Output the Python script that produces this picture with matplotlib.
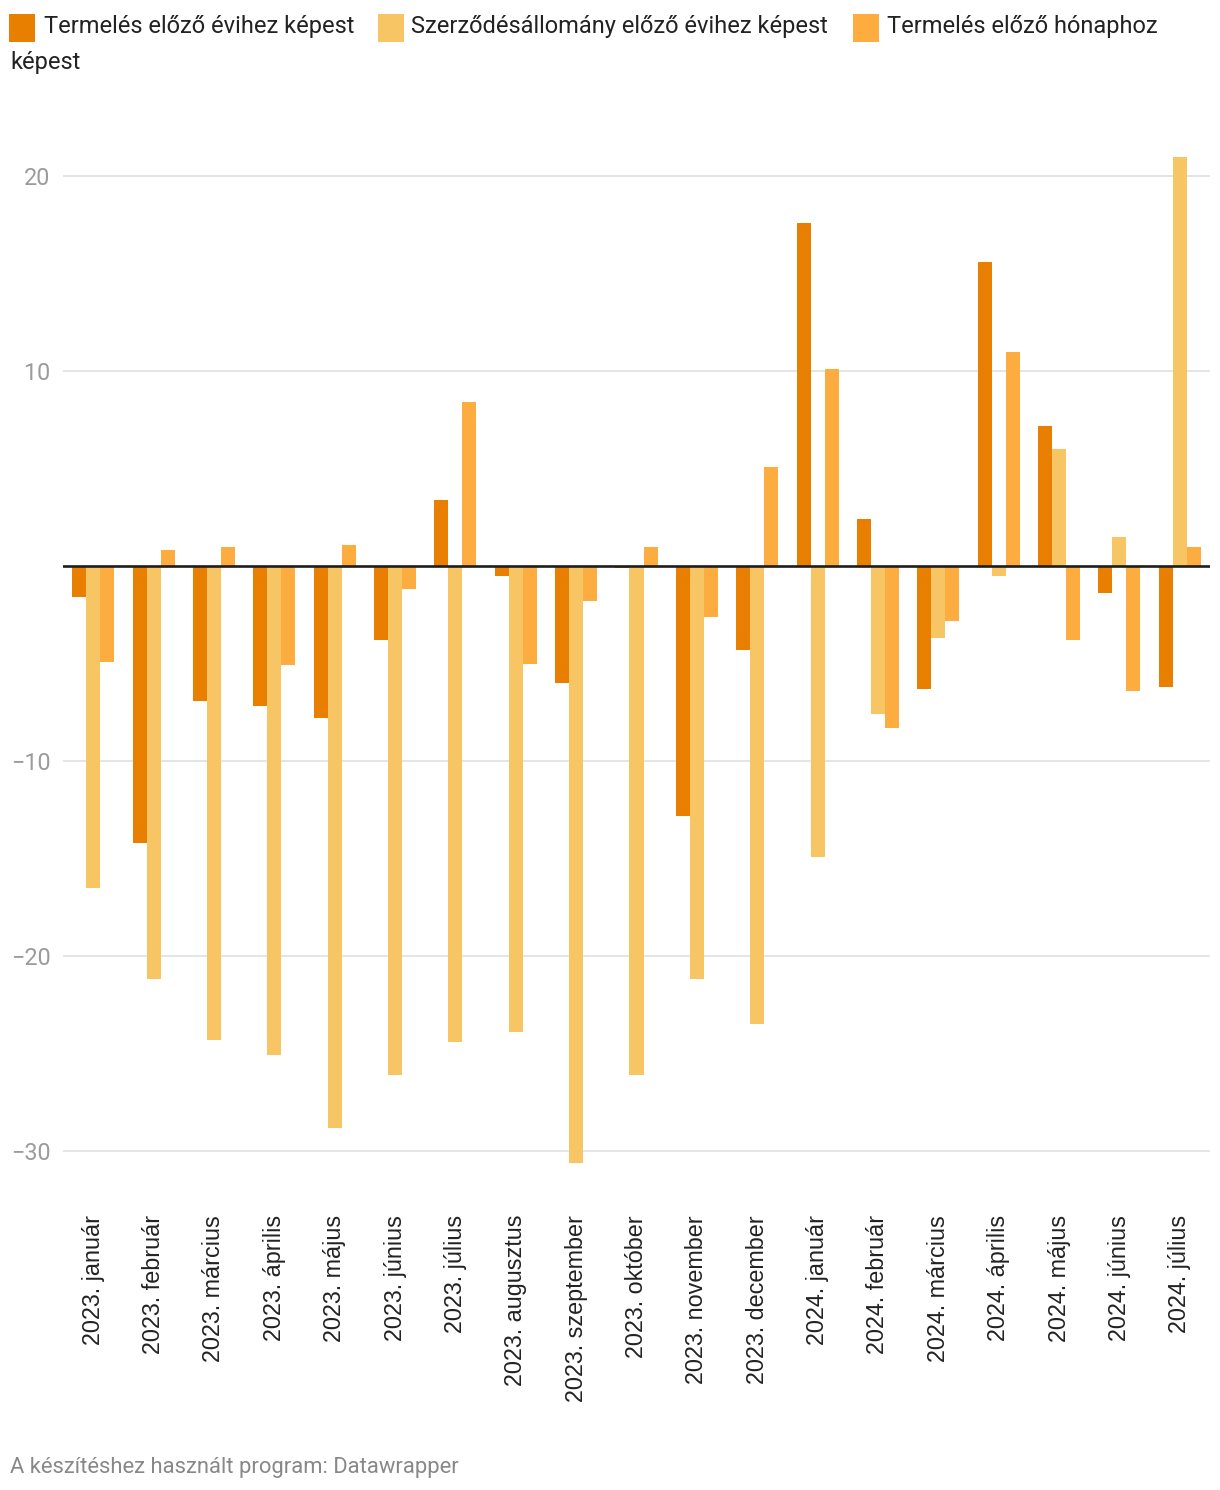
import matplotlib
matplotlib.use("Agg")
import matplotlib.pyplot as plt
import numpy as np
from matplotlib.patches import Rectangle

categories = ["2023. január", "2023. február", "2023. március", "2023. április", "2023. május",
              "2023. június", "2023. július", "2023. augusztus", "2023. szeptember", "2023. október",
              "2023. november", "2023. december", "2024. január", "2024. február", "2024. március",
              "2024. április", "2024. május", "2024. június", "2024. július"]
termeles_ev = [-1.6, -14.2, -6.9, -7.2, -7.8, -3.8, 3.4, -0.5, -6.0, -0.08, -12.8, -4.3,
               17.6, 2.4, -6.3, 15.6, 7.2, -1.4, -6.2]
szerzodes_ev = [-16.5, -21.2, -24.3, -25.1, -28.8, -26.1, -24.4, -23.9, -30.6, -26.1, -21.2, -23.5,
                -14.9, -7.6, -3.7, -0.5, 6.0, 1.5, 21.0]
termeles_ho = [-4.9, 0.8, 1.0, -5.1, 1.1, -1.2, 8.4, -5.0, -1.8, 1.0, -2.6, 5.1,
               10.1, -8.3, -2.8, 11.0, -3.8, -6.4, 1.0]
series_names = ["Termelés előző évihez képest", "Szerződésállomány előző évihez képest",
                "Termelés előző hónaphoz képest"]
yticks = [-30, -20, -10, 10, 20]

colors = ["#e87f00", "#f7c564", "#fdac40"]

W, H = 1220, 1490
fig = plt.figure(figsize=(W / 100, H / 100), dpi=100)
fig.patch.set_facecolor("white")

# axes placement in pixels
left, right = 63, 1210
top, bottom = 146.75, 1170.5
ax = fig.add_axes([left / W, 1 - bottom / H, (right - left) / W, (bottom - top) / H])

x = np.arange(len(categories))
bw = 0.232
for i, (vals, c) in enumerate(zip([termeles_ev, szerzodes_ev, termeles_ho], colors)):
    ax.bar(x + (i - 1) * bw, vals, width=bw, color=c, linewidth=0, zorder=2)

ax.set_xlim(-0.5, len(categories) - 0.5)
ax.set_ylim(-31, 21.5)
ax.axhline(0, color="#1d1d1d", lw=1.9, zorder=3)
ax.set_yticks(yticks)
ax.yaxis.grid(True, color="#e3e3e3", lw=1.3, zorder=0)
ax.set_axisbelow(True)
for s in ax.spines.values():
    s.set_visible(False)

ax.set_yticklabels([f"{v}".replace("-", "\u2212") for v in yticks],
                   fontsize=16.8, color="#9b9b9b", family=["Roboto", "DejaVu Sans"])
ax.tick_params(axis="y", length=0, pad=9)
ax.set_xticks(x)
ax.set_xticklabels(categories, rotation=90, va="top", ha="center",
                   fontsize=16.8, color="#222222", family=["Liberation Sans", "DejaVu Sans"])
ax.tick_params(axis="x", length=0, pad=32)

# legend (manual, wrapped like the original)
fam = ["Roboto", "DejaVu Sans"]
sq_w, sq_h = 26, 28
legend_items = [(9, 44, 0), (378, 411, 1), (853, 887, 2)]
labels_line1 = ["Termelés előző évihez képest", "Szerződésállomány előző évihez képest",
                "Termelés előző hónaphoz"]
for (sx, tx, idx), lab in zip(legend_items, labels_line1):
    fig.patches.append(Rectangle((sx / W, 1 - (14 + sq_h) / H), sq_w / W, sq_h / H,
                                 transform=fig.transFigure, color=colors[idx], lw=0))
    fig.text(tx / W, 1 - 27 / H, lab, fontsize=17.0, color="#222222", family=fam,
             va="center", ha="left")
fig.text(10 / W, 1 - 62 / H, "képest", fontsize=17.0, color="#222222", family=fam,
         va="center", ha="left")

fig.text(10 / W, 1 - 1467 / H, "A készítéshez használt program: Datawrapper",
         fontsize=15.8, color="#888888", family=fam, va="center", ha="left")

fig.savefig("out.png", dpi=100, facecolor="white")
